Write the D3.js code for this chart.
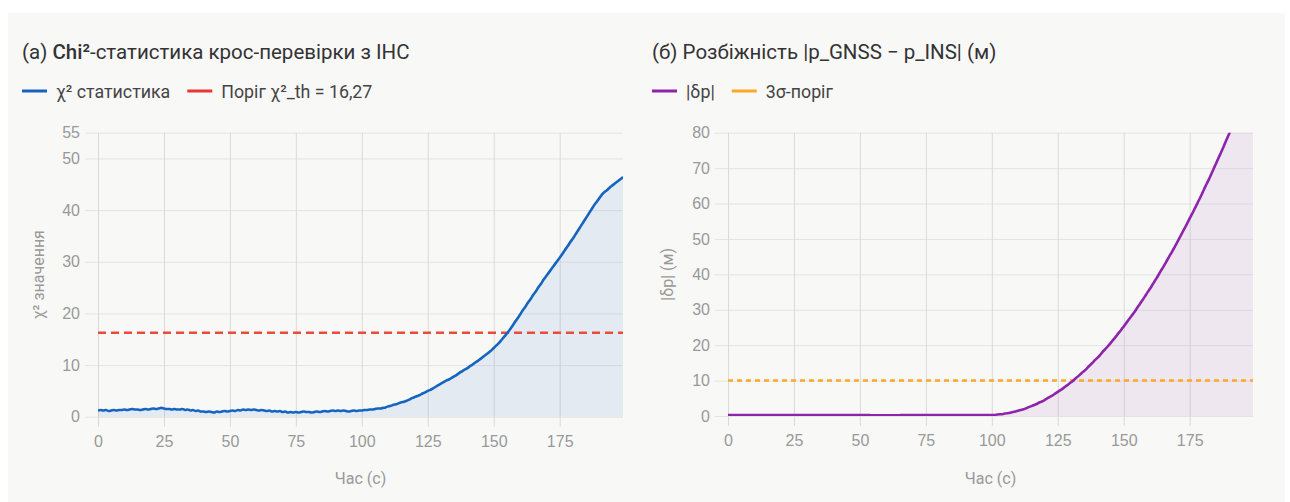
<!DOCTYPE html>
<html>
<head>
<meta charset="utf-8">
<script src="https://cdn.jsdelivr.net/npm/d3@7"></script>
<style>
  html, body { margin: 0; padding: 0; background: #ffffff; }
  svg { display: block; font-family: Roboto, "Noto Sans", sans-serif; }
</style>
</head>
<body>
<svg id="chart" width="1290" height="502"></svg>
<script>
// chi-square statistic, one value per second (0..199)
const chiValues = [
	1.2, 1.3, 1.2, 1.3, 1.1, 1.2, 1.3, 1.2, 1.3, 1.3,
	1.4, 1.3, 1.4, 1.5, 1.4, 1.4, 1.3, 1.4, 1.5, 1.4,
	1.5, 1.6, 1.5, 1.6, 1.7, 1.6, 1.5, 1.5, 1.4, 1.5,
	1.4, 1.4, 1.5, 1.3, 1.4, 1.2, 1.3, 1.1, 1.2, 1.0,
	1.0, 0.9, 1.0, 0.9, 0.8, 1.0, 0.9, 1.0, 1.1, 1.0,
	1.1, 1.2, 1.1, 1.3, 1.2, 1.4, 1.3, 1.4, 1.3, 1.4,
	1.3, 1.2, 1.3, 1.2, 1.1, 1.2, 1.0, 1.1, 1.0, 1.1,
	0.9, 1.0, 0.8, 0.9, 0.8, 0.9, 0.8, 0.9, 1.0, 0.9,
	0.9, 0.8, 0.9, 1.0, 0.9, 1.0, 1.1, 1.0, 1.1, 1.2,
	1.1, 1.2, 1.1, 1.2, 1.1, 1.0, 1.1, 1.2, 1.1, 1.2,
	1.2, 1.3, 1.3, 1.4, 1.4, 1.5, 1.6, 1.6, 1.7, 1.8,
	2.0, 2.1, 2.3, 2.4, 2.6, 2.8, 2.9, 3.1, 3.3, 3.6,
	3.8, 4.0, 4.2, 4.5, 4.7, 5.0, 5.2, 5.5, 5.8, 6.1,
	6.4, 6.7, 7.0, 7.2, 7.5, 7.8, 8.1, 8.5, 8.8, 9.1,
	9.4, 9.8, 10.1, 10.5, 10.8, 11.2, 11.6, 12.0, 12.4, 12.8,
	13.3, 13.8, 14.3, 14.9, 15.5, 16.1, 16.8, 17.5, 18.3, 19.0,
	19.8, 20.6, 21.3, 22.1, 22.8, 23.6, 24.3, 25.1, 25.8, 26.6,
	27.3, 28.0, 28.7, 29.4, 30.1, 30.8, 31.5, 32.3, 33.0, 33.8,
	34.5, 35.3, 36.1, 36.9, 37.7, 38.5, 39.3, 40.1, 40.9, 41.6,
	42.3, 43.0, 43.5, 43.9, 44.4, 44.8, 45.2, 45.6, 46.0, 46.4
];
const chiThreshold = 16.27;

// |p_GNSS - p_INS| divergence in metres, one value per second (0..199)
const deltaValues = [
	0.3, 0.3, 0.3, 0.3, 0.3, 0.3, 0.3, 0.3, 0.3, 0.3,
	0.3, 0.3, 0.3, 0.3, 0.3, 0.3, 0.3, 0.3, 0.3, 0.3,
	0.3, 0.3, 0.3, 0.3, 0.3, 0.3, 0.3, 0.3, 0.3, 0.3,
	0.3, 0.3, 0.3, 0.3, 0.3, 0.3, 0.3, 0.3, 0.3, 0.3,
	0.3, 0.3, 0.3, 0.3, 0.3, 0.3, 0.3, 0.3, 0.3, 0.3,
	0.3, 0.3, 0.3, 0.3, 0.2, 0.2, 0.2, 0.2, 0.2, 0.2,
	0.2, 0.2, 0.2, 0.2, 0.2, 0.2, 0.3, 0.3, 0.3, 0.3,
	0.3, 0.3, 0.3, 0.3, 0.3, 0.3, 0.3, 0.3, 0.3, 0.3,
	0.3, 0.3, 0.3, 0.3, 0.3, 0.3, 0.3, 0.3, 0.3, 0.3,
	0.3, 0.3, 0.3, 0.3, 0.3, 0.3, 0.3, 0.3, 0.3, 0.3,
	0.3, 0.3, 0.4, 0.5, 0.5, 0.7, 0.8, 0.9, 1.1, 1.3,
	1.5, 1.7, 1.9, 2.2, 2.5, 2.8, 3.1, 3.4, 3.8, 4.1,
	4.5, 5.0, 5.4, 5.8, 6.3, 6.8, 7.3, 7.8, 8.4, 8.9,
	9.5, 10.1, 10.8, 11.4, 12.1, 12.7, 13.4, 14.2, 14.9, 15.7,
	16.4, 17.2, 18.1, 18.9, 19.7, 20.6, 21.5, 22.4, 23.4, 24.3,
	25.3, 26.3, 27.3, 28.3, 29.3, 30.4, 31.5, 32.6, 33.7, 34.9,
	36.0, 37.2, 38.4, 39.6, 40.9, 42.1, 43.4, 44.7, 46.0, 47.3,
	48.7, 50.1, 51.5, 52.9, 54.3, 55.8, 57.2, 58.7, 60.2, 61.7,
	63.3, 64.9, 66.4, 68.0, 69.7, 71.3, 73.0, 74.6, 76.3, 78.1,
	79.8, 81.6, 83.3, 85.1, 86.9, 88.8, 90.6, 92.5, 94.4, 96.3
];
const deltaThreshold = 10;

const xTicks = [0, 25, 50, 75, 100, 125, 150, 175];
const chiTicks = [0, 10, 20, 30, 40, 50, 55];
const deltaTicks = [0, 10, 20, 30, 40, 50, 60, 70, 80];

const svg = d3.select('#chart');

// card behind both panels
svg.append('rect')
	.attr('x', 8).attr('y', 13)
	.attr('width', 1277).attr('height', 489)
	.attr('fill', '#f8f8f7');

function drawPanel(p) {
	const g = svg.append('g');

	const x = d3.scaleLinear().domain([0, p.values.length - 1]).range([p.left, p.right]);
	const y = d3.scaleLinear().domain([0, p.yMax]).range([p.bottom, p.top]);

	// title
	const title = g.append('text')
		.attr('x', p.titleX).attr('y', 59)
		.attr('font-size', 20.5).attr('fill', '#333');
	p.title.forEach(part => {
		title.append('tspan').attr('font-weight', part.bold ? 500 : 400).text(part.text);
	});

	// legend
	let lx = p.titleX;
	p.legend.forEach(item => {
		g.append('line')
			.attr('x1', lx).attr('x2', lx + 25)
			.attr('y1', 91).attr('y2', 91)
			.attr('stroke', item.color).attr('stroke-width', 3);
		const t = g.append('text')
			.attr('x', lx + 34).attr('y', 97.5)
			.attr('font-size', 17.8).attr('fill', '#444')
			.text(item.label);
		lx += 34 + t.node().getComputedTextLength() + 17;
	});

	// horizontal grid + y ticks
	const yAxis = g.append('g')
		.attr('transform', `translate(${p.left},0)`)
		.call(d3.axisLeft(y).tickValues(p.yTicks).tickSize(-(p.right - p.left)).tickPadding(18).tickFormat(d3.format('d')));
	yAxis.select('.domain').remove();
	yAxis.selectAll('.tick line')
		.attr('x1', -13)
		.attr('stroke', '#e4e4e4');
	yAxis.selectAll('.tick text')
		.attr('font-size', 16).attr('fill', '#999').attr('font-family', null);

	// vertical grid + x ticks
	const xAxis = g.append('g')
		.attr('transform', `translate(0,${p.bottom})`)
		.call(d3.axisBottom(x).tickValues(xTicks).tickSize(-(p.bottom - p.top)).tickPadding(19));
	xAxis.select('.domain').remove();
	xAxis.selectAll('.tick line')
		.attr('y1', 10)
		.attr('stroke', '#dadada');
	xAxis.selectAll('.tick text')
		.attr('font-size', 16).attr('fill', '#999').attr('font-family', null);

	// axis titles
	g.append('text')
		.attr('x', (p.left + p.right) / 2).attr('y', 484)
		.attr('text-anchor', 'middle')
		.attr('font-size', 16).attr('fill', '#999')
		.text('Час (с)');
	g.append('text')
		.attr('transform', `translate(${p.yTitleX},${(p.top + p.bottom) / 2}) rotate(-90)`)
		.attr('text-anchor', 'middle')
		.attr('font-size', 16).attr('fill', '#999')
		.text(p.yTitle);

	// clipped data layer
	const clipId = 'clip-' + p.name;
	svg.append('clipPath').attr('id', clipId)
		.append('rect')
		.attr('x', p.left).attr('y', p.top)
		.attr('width', p.right - p.left).attr('height', p.bottom - p.top);
	const plot = g.append('g').attr('clip-path', `url(#${clipId})`);

	const area = d3.area()
		.x((d, i) => x(i))
		.y0(y(0))
		.y1(d => y(d))
		.curve(d3.curveMonotoneX);
	const line = d3.line()
		.x((d, i) => x(i))
		.y(d => y(d))
		.curve(d3.curveMonotoneX);

	plot.append('path')
		.datum(p.values)
		.attr('d', area)
		.attr('fill', p.fill);

	plot.append('line')
		.attr('x1', p.left).attr('x2', p.right)
		.attr('y1', y(p.threshold)).attr('y2', y(p.threshold))
		.attr('stroke', p.thresholdColor)
		.attr('stroke-width', 2.5)
		.attr('stroke-dasharray', p.dash);

	plot.append('path')
		.datum(p.values)
		.attr('d', line)
		.attr('fill', 'none')
		.attr('stroke', p.color)
		.attr('stroke-width', 2.6)
		.attr('stroke-linejoin', 'round');
}

drawPanel({
	name: 'chi',
	values: chiValues,
	threshold: chiThreshold,
	yMax: 55,
	yTicks: chiTicks,
	left: 98, right: 623, top: 132.7, bottom: 416.7,
	titleX: 22,
	title: [{text: '(a) '}, {text: 'Chi²', bold: true}, {text: '-статистика крос-перевірки з ІНС'}],
	legend: [{label: 'χ² статистика', color: '#1565c0'}, {label: 'Поріг χ²_th = 16,27', color: '#e53935'}],
	yTitle: 'χ² значення',
	yTitleX: 44,
	color: '#1565c0',
	fill: 'rgba(21,101,192,0.09)',
	thresholdColor: '#e84c3d',
	dash: '8,5'
});

drawPanel({
	name: 'delta',
	values: deltaValues,
	threshold: deltaThreshold,
	yMax: 80,
	yTicks: deltaTicks,
	left: 728, right: 1253, top: 132.7, bottom: 416,
	titleX: 652,
	title: [{text: '(б) Розбіжність |p_GNSS − p_INS| (м)'}],
	legend: [{label: '|δp|', color: '#8e24aa'}, {label: '3σ-поріг', color: '#ffa726'}],
	yTitle: '|δp| (м)',
	yTitleX: 673,
	color: '#8e24aa',
	fill: 'rgba(142,36,170,0.08)',
	thresholdColor: '#ffa726',
	dash: '5,4'
});
</script>
</body>
</html>
